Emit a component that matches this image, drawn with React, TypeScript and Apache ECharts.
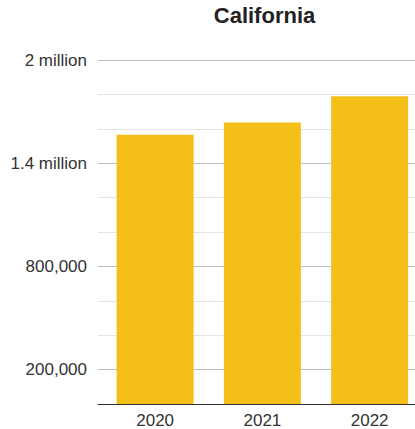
import React, { useEffect, useRef } from "react";
import * as echarts from "echarts";

const titleText = "California";
const categories = ["2020", "2021", "2022"];
const values = [1566000, 1636000, 1789000];
const labeledTicks = [200000, 800000, 1400000, 2000000];
const tickLabels = ["200,000", "800,000", "1.4 million", "2 million"];
const yMin = 0;
const yMax = 2000000;
const yInterval = 200000;

const FONT = "'Liberation Sans', Arial, Helvetica, sans-serif";

export default function App() {
  const ref = useRef<HTMLDivElement>(null);
  useEffect(() => {
    document.body.style.margin = "0";
    if (!ref.current) return;
    const chart = echarts.init(ref.current, undefined, { renderer: "svg" });
    chart.setOption({
      animation: false,
      backgroundColor: "#ffffff",
      graphic: [
        {
          type: "text",
          x: 264.5,
          y: 15,
          style: {
            text: titleText,
            textAlign: "center",
            textVerticalAlign: "middle",
            fontFamily: FONT,
            fontSize: 22,
            fontWeight: "bold",
            fill: "#222222",
          },
        },
      ],
      grid: [
        { left: 98, right: 0, top: 60, bottom: 25, containLabel: false, outerBoundsMode: "none" },
        { left: 101.5, width: 321.75, top: 60, bottom: 25, containLabel: false, outerBoundsMode: "none" },
      ],
      xAxis: [
        {
          gridIndex: 0,
          type: "value",
          min: 0,
          max: 1,
          axisLine: { show: true, onZero: false, lineStyle: { color: "#333333", width: 1 } },
          axisTick: { show: false },
          axisLabel: { show: false },
          splitLine: { show: false },
        },
        {
          gridIndex: 1,
          type: "category",
          data: categories,
          axisLine: { show: false },
          axisTick: { show: false },
          axisLabel: {
            color: "#333333",
            fontFamily: FONT,
            fontSize: 17,
            margin: 8,
          },
        },
      ],
      yAxis: [
        {
          gridIndex: 0,
          type: "value",
          min: yMin,
          max: yMax,
          interval: yInterval,
          axisLine: { show: false },
          axisTick: { show: false },
          axisLabel: {
            color: "#333333",
            fontFamily: FONT,
            fontSize: 17,
            margin: 11,
            formatter: (v: number) => {
              const i = labeledTicks.indexOf(v);
              return i >= 0 ? tickLabels[i] : "";
            },
          },
          splitLine: {
            show: true,
            showMinLine: false,
            lineStyle: { color: ["#bdbdbd", "#e3e3e3", "#e3e3e3"], width: 1 },
          },
        },
        {
          gridIndex: 1,
          type: "value",
          min: yMin,
          max: yMax,
          interval: yInterval,
          show: false,
          splitLine: { show: false },
        },
      ],
      series: [
        {
          type: "bar",
          xAxisIndex: 1,
          yAxisIndex: 1,
          data: values,
          barWidth: 77,
          itemStyle: { color: "#F3BF18" },
          z: 3,
        },
      ],
    });
    return () => chart.dispose();
  }, []);
  return <div ref={ref} style={{ width: 415, height: 429 }} />;
}
